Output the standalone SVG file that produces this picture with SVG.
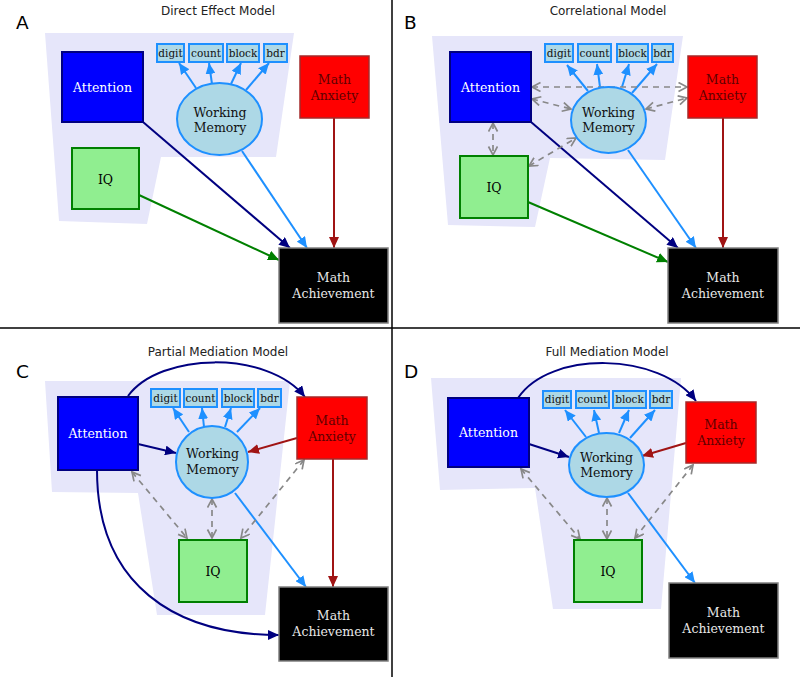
<svg xmlns="http://www.w3.org/2000/svg" width="800" height="677" viewBox="0 0 800 677">
<style>
.bg{fill:#e6e6fa}
.title{font-family:"DejaVu Sans","Liberation Sans",sans-serif;font-size:12px;fill:#222;text-anchor:middle}
.letter{font-family:"DejaVu Sans","Liberation Sans",sans-serif;font-size:18.5px;fill:#000}
.lbl{font-family:"DejaVu Serif","Liberation Serif",serif;font-size:12.5px;text-anchor:middle}
.sm{font-family:"DejaVu Serif","Liberation Serif",serif;font-size:10.5px;text-anchor:middle;fill:#111}
.att{fill:#0000ff;stroke:#000080;stroke-width:2}
.iq{fill:#90ee90;stroke:#008000;stroke-width:2}
.anx{fill:#ff0000;stroke:#a52a2a;stroke-width:1.5}
.ach{fill:#000;stroke:#808080;stroke-width:1.5}
.wm{fill:#add8e6;stroke:#1e90ff;stroke-width:2}
.box{fill:#add8e6;stroke:#1e90ff;stroke-width:2}
.e{fill:none;stroke-width:2}
.nv{stroke:#000080;marker-end:url(#mNv)}
.db{stroke:#1e90ff;marker-end:url(#mDb)}
.gr{stroke:#008000;marker-end:url(#mGr)}
.dr{stroke:#a01414;marker-end:url(#mDr)}
.dash{fill:none;stroke:#888;stroke-width:1.7;stroke-dasharray:6,5;marker-start:url(#mCh);marker-end:url(#mCh)}
</style>
<defs>
<marker id="mNv" markerUnits="userSpaceOnUse" markerWidth="12" markerHeight="10" refX="11" refY="5" orient="auto"><path d="M0,0 L11,5 L0,10 z" fill="#000080"/></marker>
<marker id="mDb" markerUnits="userSpaceOnUse" markerWidth="12" markerHeight="10" refX="11" refY="5" orient="auto"><path d="M0,0 L11,5 L0,10 z" fill="#1e90ff"/></marker>
<marker id="mGr" markerUnits="userSpaceOnUse" markerWidth="12" markerHeight="10" refX="11" refY="5" orient="auto"><path d="M0,0 L11,5 L0,10 z" fill="#008000"/></marker>
<marker id="mDr" markerUnits="userSpaceOnUse" markerWidth="12" markerHeight="10" refX="11" refY="5" orient="auto"><path d="M0,0 L11,5 L0,10 z" fill="#a01414"/></marker>
<marker id="mCh" markerUnits="userSpaceOnUse" markerWidth="11" markerHeight="11" refX="9" refY="5" orient="auto-start-reverse"><path d="M0.5,0.5 L9,5 L0.5,9.5" fill="none" stroke="#888" stroke-width="1.7" stroke-dasharray="none"/></marker>
</defs>
<rect width="800" height="677" fill="#fff"/>
<line x1="392" y1="0" x2="392" y2="677" stroke="#000" stroke-width="1.5"/>
<line x1="0" y1="328" x2="800" y2="328" stroke="#000" stroke-width="1.5"/>

<!-- Panel A -->
<g id="panelA">
<text class="title" x="218" y="15">Direct Effect Model</text>
<text class="letter" x="16" y="29">A</text>
<polygon class="bg" points="45,33 294,33 276,157 161,157 147,224 59,221"/>
<g id="A-connectors">
<path class="e db" d="M196,88 L179,63"/>
<path class="e db" d="M212,84 L209,63"/>
<path class="e db" d="M231,84 L241,63"/>
<path class="e db" d="M246,90 L269,63"/>
<path class="e nv" d="M143,122 L290,248"/>
<path class="e db" d="M242,151 L307,248"/>
<path class="e gr" d="M139,195 L279,260"/>
<path class="e dr" d="M334,118 L334,248"/>
</g>
<g id="A-attention"><rect class="att" x="62" y="52" width="81" height="70"/><text class="lbl" x="102.5" y="91.5" fill="#fff">Attention</text></g>
<g id="A-iq"><rect class="iq" x="72" y="148" width="67" height="61"/><text class="lbl" x="105.5" y="183.5" fill="#000">IQ</text></g>
<g id="A-wm"><ellipse class="wm" cx="219.5" cy="119" rx="42.5" ry="36"/><text class="lbl" x="220" y="116.5" fill="#111">Working</text><text class="lbl" x="220" y="131.5" fill="#111">Memory</text></g>
<g id="A-digit"><rect class="box" x="157" y="44" width="27" height="18"/><text class="sm" x="170.5" y="56.5">digit</text></g>
<g id="A-count"><rect class="box" x="189" y="44" width="34" height="18"/><text class="sm" x="206" y="56.5">count</text></g>
<g id="A-block"><rect class="box" x="227" y="44" width="32" height="18"/><text class="sm" x="243" y="56.5">block</text></g>
<g id="A-bdr"><rect class="box" x="264" y="44" width="23" height="18"/><text class="sm" x="275.5" y="56.5">bdr</text></g>
<g id="A-anx"><rect class="anx" x="300" y="56" width="69" height="62"/><text class="lbl" x="334.5" y="83.5" fill="#600000">Math</text><text class="lbl" x="334.5" y="99.5" fill="#600000">Anxiety</text></g>
<g id="A-ach"><rect class="ach" x="279" y="248" width="109" height="75"/><text class="lbl" x="333.5" y="281.5" fill="#e8e8e8">Math</text><text class="lbl" x="333.5" y="297.5" fill="#e8e8e8">Achievement</text></g>
</g>

<!-- Panel B -->
<g id="panelB">
<text class="title" x="608" y="15">Correlational Model</text>
<text class="letter" x="404" y="29">B</text>
<polygon class="bg" points="432,36 683,36 665,160 550,158 535,227 448,225"/>
<g id="B-connectors">
<path class="e db" d="M588,91 L567,65"/>
<path class="e db" d="M600,87 L597,64"/>
<path class="e db" d="M622,87 L629,64"/>
<path class="e db" d="M632,93 L657,64"/>
<path class="e nv" d="M531,122 L678,248"/>
<path class="e db" d="M628,150 L696,248"/>
<path class="e gr" d="M528,202 L668,262"/>
<path class="e dr" d="M723,118 L723,248"/>
<path class="dash" d="M532,87 L687,87"/>
<path class="dash" d="M532,99 L571,109"/>
<path class="dash" d="M646,109 L687,98"/>
<path class="dash" d="M493,123 L493,155"/>
<path class="dash" d="M529,166 L576,138"/>
</g>
<g id="B-attention"><rect class="att" x="450" y="52" width="81" height="70"/><text class="lbl" x="490.5" y="91.5" fill="#fff">Attention</text></g>
<g id="B-iq"><rect class="iq" x="460" y="156" width="68" height="62"/><text class="lbl" x="494" y="191.5" fill="#000">IQ</text></g>
<g id="B-wm"><ellipse class="wm" cx="608.5" cy="120" rx="37.5" ry="33"/><text class="lbl" x="608.5" y="116.5" fill="#111">Working</text><text class="lbl" x="608.5" y="131.5" fill="#111">Memory</text></g>
<g id="B-digit"><rect class="box" x="545" y="44" width="28" height="18"/><text class="sm" x="559" y="56.5">digit</text></g>
<g id="B-count"><rect class="box" x="578" y="44" width="33" height="18"/><text class="sm" x="594.5" y="56.5">count</text></g>
<g id="B-block"><rect class="box" x="617" y="44" width="31" height="18"/><text class="sm" x="632.5" y="56.5">block</text></g>
<g id="B-bdr"><rect class="box" x="652" y="44" width="21" height="18"/><text class="sm" x="662.5" y="56.5">bdr</text></g>
<g id="B-anx"><rect class="anx" x="688" y="56" width="69" height="62"/><text class="lbl" x="722.5" y="83.5" fill="#600000">Math</text><text class="lbl" x="722.5" y="99.5" fill="#600000">Anxiety</text></g>
<g id="B-ach"><rect class="ach" x="668" y="248" width="110" height="75"/><text class="lbl" x="723" y="281.5" fill="#e8e8e8">Math</text><text class="lbl" x="723" y="297.5" fill="#e8e8e8">Achievement</text></g>
</g>

<!-- Panel C -->
<g id="panelC">
<text class="title" x="218" y="355.5">Partial Mediation Model</text>
<text class="letter" x="16" y="378">C</text>
<polygon class="bg" points="45,381 290,381 265,615 157,615 138,493 52,492"/>
<g id="C-connectors">
<path class="e db" d="M189,432 L173,408"/>
<path class="e db" d="M204,427 L202,408"/>
<path class="e db" d="M225,427 L231,408"/>
<path class="e db" d="M237,432 L260,408"/>
<path class="e nv" d="M128,396 C160,352 268,350 305,397"/>
<path class="e nv" d="M138,444 L176,453"/>
<path class="e dr" d="M297,438 L248,452"/>
<path class="e nv" d="M97,470 C97,585 175,635 279,635"/>
<path class="e db" d="M235,493 L306,587"/>
<path class="e dr" d="M333,459 L333,587"/>
<path class="dash" d="M132,472 L187,538"/>
<path class="dash" d="M212,499 L212,538"/>
<path class="dash" d="M304,460 L241,538"/>
</g>
<g id="C-attention"><rect class="att" x="58" y="397" width="80" height="73"/><text class="lbl" x="98" y="438" fill="#fff">Attention</text></g>
<g id="C-wm"><circle class="wm" cx="212" cy="462" r="36"/><text class="lbl" x="212.5" y="457.5" fill="#111">Working</text><text class="lbl" x="212.5" y="473.5" fill="#111">Memory</text></g>
<g id="C-digit"><rect class="box" x="151" y="389" width="29" height="18"/><text class="sm" x="165.5" y="401.5">digit</text></g>
<g id="C-count"><rect class="box" x="184" y="389" width="33" height="18"/><text class="sm" x="200.5" y="401.5">count</text></g>
<g id="C-block"><rect class="box" x="222" y="389" width="32" height="18"/><text class="sm" x="238" y="401.5">block</text></g>
<g id="C-bdr"><rect class="box" x="258" y="389" width="23" height="18"/><text class="sm" x="269.5" y="401.5">bdr</text></g>
<g id="C-anx"><rect class="anx" x="297" y="397" width="70" height="62"/><text class="lbl" x="332" y="424.5" fill="#600000">Math</text><text class="lbl" x="332" y="440.5" fill="#600000">Anxiety</text></g>
<g id="C-iq"><rect class="iq" x="179" y="540" width="68" height="62"/><text class="lbl" x="213" y="575.5" fill="#000">IQ</text></g>
<g id="C-ach"><rect class="ach" x="279" y="587" width="109" height="74"/><text class="lbl" x="333.5" y="620" fill="#e8e8e8">Math</text><text class="lbl" x="333.5" y="636" fill="#e8e8e8">Achievement</text></g>
</g>

<!-- Panel D -->
<g id="panelD">
<text class="title" x="607" y="356">Full Mediation Model</text>
<text class="letter" x="404" y="378">D</text>
<polygon class="bg" points="431,378 681,378 661,609 553,609 535,488 440,490"/>
<g id="D-connectors">
<path class="e db" d="M586,437 L565,410"/>
<path class="e db" d="M599,433 L594,410"/>
<path class="e db" d="M619,433 L629,410"/>
<path class="e db" d="M630,438 L655,410"/>
<path class="e nv" d="M518,398 C550,350 660,352 696,401"/>
<path class="e nv" d="M529,444 L569,457"/>
<path class="e dr" d="M686,443 L642,456"/>
<path class="e db" d="M628,493 L695,583"/>
<path class="dash" d="M521,469 L580,539"/>
<path class="dash" d="M607,498 L607,539"/>
<path class="dash" d="M693,465 L635,538"/>
</g>
<g id="D-attention"><rect class="att" x="448" y="398" width="81" height="69"/><text class="lbl" x="488.5" y="437" fill="#fff">Attention</text></g>
<g id="D-wm"><ellipse class="wm" cx="606.5" cy="465" rx="37.5" ry="32"/><text class="lbl" x="606.5" y="461.5" fill="#111">Working</text><text class="lbl" x="606.5" y="476.5" fill="#111">Memory</text></g>
<g id="D-digit"><rect class="box" x="543" y="391" width="28" height="17"/><text class="sm" x="557" y="403">digit</text></g>
<g id="D-count"><rect class="box" x="576" y="391" width="33" height="17"/><text class="sm" x="592.5" y="403">count</text></g>
<g id="D-block"><rect class="box" x="613" y="391" width="33" height="17"/><text class="sm" x="629.5" y="403">block</text></g>
<g id="D-bdr"><rect class="box" x="650" y="391" width="22" height="17"/><text class="sm" x="661" y="403">bdr</text></g>
<g id="D-anx"><rect class="anx" x="686" y="402" width="70" height="61"/><text class="lbl" x="721" y="429" fill="#600000">Math</text><text class="lbl" x="721" y="445" fill="#600000">Anxiety</text></g>
<g id="D-iq"><rect class="iq" x="574" y="540" width="68" height="62"/><text class="lbl" x="608" y="575.5" fill="#000">IQ</text></g>
<g id="D-ach"><rect class="ach" x="669" y="583" width="109" height="75"/><text class="lbl" x="723.5" y="616.5" fill="#e8e8e8">Math</text><text class="lbl" x="723.5" y="632.5" fill="#e8e8e8">Achievement</text></g>
</g>
</svg>
